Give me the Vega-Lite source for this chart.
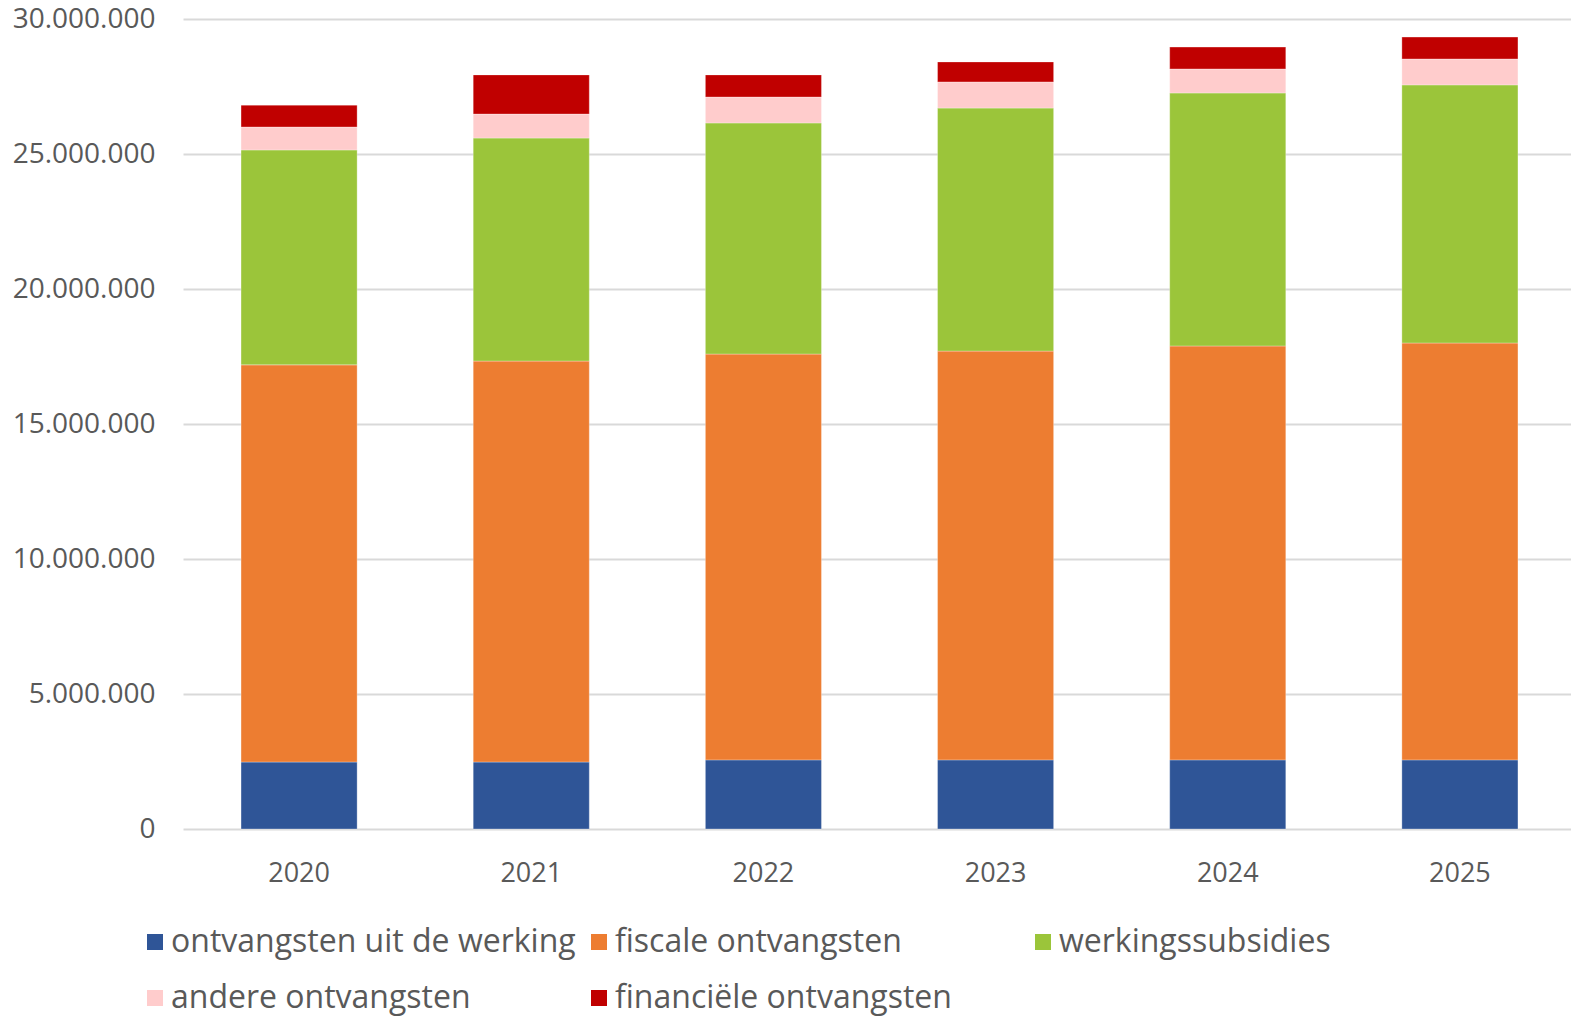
{
  "$schema": "https://vega.github.io/schema/vega-lite/v6.json",
  "width": 1393,
  "height": 810,
  "autosize": "none",
  "padding": {"left": 183, "top": 19, "right": 0, "bottom": 188},
  "background": "white",
  "config": {"view": {"stroke": null}, "font": "Open Sans"},
  "data": {
    "values": [
      {"jaar": "2020", "categorie": "ontvangsten uit de werking", "volgorde": 1, "bedrag": 2480000},
      {"jaar": "2020", "categorie": "fiscale ontvangsten", "volgorde": 2, "bedrag": 14710000},
      {"jaar": "2020", "categorie": "werkingssubsidies", "volgorde": 3, "bedrag": 7960000},
      {"jaar": "2020", "categorie": "andere ontvangsten", "volgorde": 4, "bedrag": 850000},
      {"jaar": "2020", "categorie": "financiële ontvangsten", "volgorde": 5, "bedrag": 810000},
      {"jaar": "2021", "categorie": "ontvangsten uit de werking", "volgorde": 1, "bedrag": 2480000},
      {"jaar": "2021", "categorie": "fiscale ontvangsten", "volgorde": 2, "bedrag": 14850000},
      {"jaar": "2021", "categorie": "werkingssubsidies", "volgorde": 3, "bedrag": 8260000},
      {"jaar": "2021", "categorie": "andere ontvangsten", "volgorde": 4, "bedrag": 890000},
      {"jaar": "2021", "categorie": "financiële ontvangsten", "volgorde": 5, "bedrag": 1450000},
      {"jaar": "2022", "categorie": "ontvangsten uit de werking", "volgorde": 1, "bedrag": 2560000},
      {"jaar": "2022", "categorie": "fiscale ontvangsten", "volgorde": 2, "bedrag": 15030000},
      {"jaar": "2022", "categorie": "werkingssubsidies", "volgorde": 3, "bedrag": 8560000},
      {"jaar": "2022", "categorie": "andere ontvangsten", "volgorde": 4, "bedrag": 960000},
      {"jaar": "2022", "categorie": "financiële ontvangsten", "volgorde": 5, "bedrag": 820000},
      {"jaar": "2023", "categorie": "ontvangsten uit de werking", "volgorde": 1, "bedrag": 2560000},
      {"jaar": "2023", "categorie": "fiscale ontvangsten", "volgorde": 2, "bedrag": 15140000},
      {"jaar": "2023", "categorie": "werkingssubsidies", "volgorde": 3, "bedrag": 9000000},
      {"jaar": "2023", "categorie": "andere ontvangsten", "volgorde": 4, "bedrag": 970000},
      {"jaar": "2023", "categorie": "financiële ontvangsten", "volgorde": 5, "bedrag": 740000},
      {"jaar": "2024", "categorie": "ontvangsten uit de werking", "volgorde": 1, "bedrag": 2560000},
      {"jaar": "2024", "categorie": "fiscale ontvangsten", "volgorde": 2, "bedrag": 15330000},
      {"jaar": "2024", "categorie": "werkingssubsidies", "volgorde": 3, "bedrag": 9370000},
      {"jaar": "2024", "categorie": "andere ontvangsten", "volgorde": 4, "bedrag": 890000},
      {"jaar": "2024", "categorie": "financiële ontvangsten", "volgorde": 5, "bedrag": 810000},
      {"jaar": "2025", "categorie": "ontvangsten uit de werking", "volgorde": 1, "bedrag": 2560000},
      {"jaar": "2025", "categorie": "fiscale ontvangsten", "volgorde": 2, "bedrag": 15440000},
      {"jaar": "2025", "categorie": "werkingssubsidies", "volgorde": 3, "bedrag": 9560000},
      {"jaar": "2025", "categorie": "andere ontvangsten", "volgorde": 4, "bedrag": 960000},
      {"jaar": "2025", "categorie": "financiële ontvangsten", "volgorde": 5, "bedrag": 810000}
    ]
  },
  "mark": {"type": "bar", "stroke": "white", "strokeWidth": 0.5, "strokeOpacity": 0.6},
  "encoding": {
    "x": {
      "field": "jaar",
      "type": "ordinal",
      "scale": {"paddingInner": 0.5, "paddingOuter": 0.25},
      "axis": {
        "title": null,
        "labelAngle": 0,
        "domain": false,
        "ticks": false,
        "labelFontSize": 27,
        "labelColor": "#595959",
        "labelPadding": 31
      }
    },
    "y": {
      "field": "bedrag",
      "type": "quantitative",
      "stack": "zero",
      "scale": {"domain": [0, 30000000], "nice": false},
      "axis": {
        "title": null,
        "values": [0, 5000000, 10000000, 15000000, 20000000, 25000000, 30000000],
        "labelExpr": "replace(format(datum.value, ','), /,/g, '.')",
        "domain": false,
        "ticks": false,
        "grid": true,
        "gridColor": "#d9d9d9",
        "gridWidth": 2,
        "labelFontSize": 28,
        "labelColor": "#595959",
        "labelPadding": 28
      }
    },
    "color": {
      "field": "categorie",
      "type": "nominal",
      "scale": {
        "domain": ["ontvangsten uit de werking", "fiscale ontvangsten", "werkingssubsidies", "andere ontvangsten", "financiële ontvangsten"],
        "range": ["#2F5597", "#ED7D31", "#9BC53A", "#FFCCCC", "#C00000"]
      },
      "legend": {
        "title": null,
        "orient": "none",
        "legendX": -44,
        "legendY": 907,
        "direction": "horizontal",
        "columns": 3,
        "gridAlign": "all",
        "columnPadding": 7,
        "rowPadding": 24,
        "symbolType": "square",
        "symbolSize": 256,
        "symbolStrokeWidth": 0,
        "symbolOffset": 0,
        "labelOffset": 0,
        "labelFontSize": 32,
        "labelColor": "#595959",
        "labelLimit": 700
      }
    },
    "order": {"field": "volgorde", "type": "quantitative"}
  }
}
